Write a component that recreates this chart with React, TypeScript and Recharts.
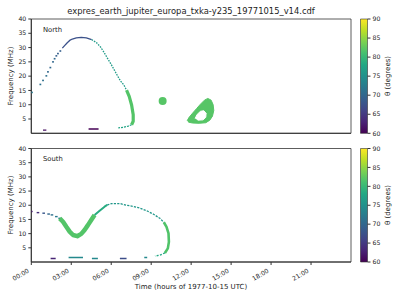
import { ScatterChart, Scatter, XAxis, YAxis, ReferenceArea, BarChart, Bar } from "recharts";

const hourTicks = [0, 3, 6, 9, 12, 15, 18, 21];
const freqTicks = [5, 10, 15, 20, 25, 30, 35, 40];
const thetaTicks = [60, 65, 70, 75, 80, 85, 90];

// points are [hour, frequency MHz, theta deg]
const northRise = [
    [0.05, 14.3, 72], [0.68, 17.1, 71], [0.88, 18.5, 71], [1.13, 20.1, 71], [1.25, 21.5, 70],
    [1.43, 23, 70], [1.63, 25, 70], [1.75, 26.1, 70], [1.88, 27.1, 69], [2.0, 27.9, 69], [2.18, 28.8, 69],
];
const northPeak = [
    [2.33, 29.8, 68], [2.5, 30.7, 67], [2.7, 31.7, 67], [2.88, 32.5, 67], [3.08, 33, 67],
    [3.38, 33.4, 67], [3.75, 33.6, 67], [4.13, 33.4, 68], [4.53, 32.8, 69],
];
const northFall = [
    [4.53, 32.8, 73], [4.9, 31.7, 74], [5.2, 30.2, 75], [5.45, 28.4, 75], [5.7, 26.4, 76], [5.96, 24.4, 76],
    [6.2, 22.4, 77], [6.45, 20.3, 77], [6.7, 18.3, 78], [6.95, 16.9, 79], [7.15, 15.1, 80],
];
const northBand = [
    [7.15, 15.1, 82], [7.35, 12.9, 82], [7.53, 9.9, 82], [7.65, 6.5, 82], [7.65, 4.2, 82], [7.53, 3.0, 81],
];
const northHook = [[7.53, 3.0, 79], [7.28, 2.5, 78], [6.9, 2.1, 77], [6.53, 1.9, 76]];
const northDashes = [
    [[0.88, 1.1, 61], [1.13, 1.1, 61]],
    [[4.3, 1.5, 60], [5.05, 1.5, 60]],
];
const northSpot = [[9.86, 11.3, 82]];
const northLoopOuter = [
    [11.7, 4.4, 82], [11.85, 5.6, 82], [12.1, 7.0, 82], [12.4, 8.6, 82], [12.7, 10.2, 82], [13.0, 11.6, 82],
    [13.25, 12.2, 82], [13.5, 11.6, 82], [13.65, 10.0, 82], [13.7, 8.0, 82], [13.6, 6.0, 82], [13.4, 4.6, 82],
    [13.1, 3.7, 82], [12.6, 3.5, 82], [12.1, 3.6, 82], [11.8, 3.9, 82],
];
const northLoopHole = [
    [12.3, 5.2, 0], [12.45, 6.6, 0], [12.7, 7.7, 0], [12.95, 7.9, 0], [13.12, 7.0, 0],
    [13.1, 5.6, 0], [12.9, 4.7, 0], [12.5, 4.6, 0],
];

const southStart = [
    [0.0, 17.8, 62], [0.5, 17.4, 64], [0.93, 17.2, 68], [1.3, 16.9, 70],
    [1.55, 16.6, 71], [1.88, 16.0, 72], [2.13, 15.4, 73],
];
const southDip = [
    [2.13, 15.4, 81], [2.38, 14.2, 82], [2.63, 12.4, 82], [2.88, 10.7, 82], [3.13, 9.5, 82], [3.45, 9.1, 82],
    [3.75, 9.9, 82], [4.0, 11.3, 82], [4.25, 13, 82], [4.5, 14.8, 82], [4.75, 16.6, 81],
];
const southRise = [[4.75, 16.6, 80], [5.13, 18.1, 79], [5.5, 19.5, 78], [5.7, 20.1, 77]];
const southHump = [
    [5.7, 20.1, 76], [6.03, 20.6, 75], [6.65, 20.6, 75], [7.15, 20.0, 75], [7.65, 19.6, 75],
    [8.15, 19.0, 75], [8.65, 18.1, 76], [9.15, 16.9, 76], [9.65, 15.4, 77], [9.95, 14.0, 78],
];
const southWall = [[9.95, 14, 81], [10.15, 12.4, 82], [10.3, 10.1, 82], [10.33, 7.1, 82], [10.25, 4.8, 82], [10.03, 3.2, 81]];
const southHook = [[10.03, 3.2, 79], [9.65, 2.4, 78], [9.28, 2.1, 77]];
const southDashes = [
    [[1.45, 1.25, 63], [1.83, 1.25, 63]],
    [[2.8, 1.6, 74], [3.88, 1.6, 74]],
    [[4.55, 1.25, 74], [5.0, 1.25, 74]],
    [[6.65, 1.25, 67], [7.15, 1.25, 67]],
    [[8.48, 1.6, 74], [8.7, 1.6, 74]],
];

const VIRIDIS = ["#440154", "#482475", "#414487", "#355f8d", "#2a788e", "#21918c", "#22a884", "#44bf70", "#7ad151", "#bddf26", "#fde725"];

function viridis(theta: number) {
    const u = Math.min(1, Math.max(0, (theta - 60) / 30)) * 10;
    const i = Math.min(9, Math.floor(u));
    const f = u - i;
    const a = VIRIDIS[i], b = VIRIDIS[i + 1];
    const ch = (s: string, k: number) => parseInt(s.slice(1 + k * 2, 3 + k * 2), 16);
    const c = [0, 1, 2].map((k) => Math.round(ch(a, k) + (ch(b, k) - ch(a, k)) * f));
    return `rgb(${c[0]},${c[1]},${c[2]})`;
}

const toPts = (arr: number[][]) => arr.map(([t, f, th]) => ({ t, f, th }));
const meanTheta = (arr: number[][]) => arr.reduce((s, p) => s + p[2], 0) / arr.length;
const noMark = () => <g />;
const TEXT = "#222";
const AXIS = "#333";

function trace(key: string, arr: number[][], width: number, dash?: string) {
    const c = viridis(meanTheta(arr));
    return (
        <Scatter
            key={key}
            data={toPts(arr)}
            fill={c}
            line={{ stroke: c, strokeWidth: width, strokeDasharray: dash, strokeLinejoin: "round" }}
            shape={noMark}
            isAnimationActive={false}
        />
    );
}

function dots(key: string, arr: number[][], w: number, h: number) {
    return (
        <Scatter
            key={key}
            data={toPts(arr)}
            shape={(p: any) => (
                <rect x={p.cx - w / 2} y={p.cy - h / 2} width={w} height={h} fill={viridis(p.payload.th)} />
            )}
            isAnimationActive={false}
        />
    );
}

function patch(key: string, arr: number[][], color: string) {
    return (
        <Scatter
            key={key}
            data={toPts(arr)}
            fill={color}
            line={{ stroke: color, strokeWidth: 1, fill: color }}
            shape={noMark}
            isAnimationActive={false}
        />
    );
}

const fmtHour = (h: number) => `${String(h).padStart(2, "0")}:00`;

function TimeTick({ x, y, payload }: any) {
    const ax = x - 1.8;
    const ay = y + 7;
    return (
        <text x={ax} y={ay} transform={`rotate(-30 ${ax} ${ay})`} textAnchor="end" fontSize={6.2} fill={TEXT}>
            {fmtHour(payload.value)}
        </text>
    );
}

function Panel({ top, height, plotTop, plotBottom, showTime, children }: any) {
    return (
        <div style={{ position: "absolute", left: 0, top }}>
            <ScatterChart width={400} height={height} margin={{ top: plotTop, right: 49, bottom: 0, left: 0 }}>
                <XAxis
                    type="number"
                    dataKey="t"
                    domain={[0, 24]}
                    ticks={hourTicks}
                    interval={0}
                    allowDataOverflow
                    height={height - plotBottom}
                    tickSize={3}
                    tickMargin={0}
                    stroke={AXIS}
                    tick={showTime ? <TimeTick /> : false}
                />
                <YAxis
                    type="number"
                    dataKey="f"
                    domain={[0, 40]}
                    ticks={freqTicks}
                    interval={0}
                    allowDataOverflow
                    width={31.3}
                    tickSize={3}
                    tickMargin={2}
                    stroke={AXIS}
                    tick={{ fontSize: 6.2, fill: TEXT }}
                />
                {children}
                <ReferenceArea x1={0} x2={24} y1={0} y2={40} fill="none" stroke={AXIS} strokeWidth={0.8} />
            </ScatterChart>
        </div>
    );
}

const cbData = [{ k: "theta", v: [60, 90] }];

function ColorBar({ top, height, plotTop, plotBottom, id }: any) {
    return (
        <div style={{ position: "absolute", left: 355, top }}>
            <BarChart
                width={45}
                height={height}
                data={cbData}
                margin={{ top: plotTop, right: 0, bottom: height - plotBottom, left: 5.5 }}
                barCategoryGap={0}
            >
                <defs>
                    <linearGradient id={id} x1="0" y1="1" x2="0" y2="0">
                        {VIRIDIS.map((c, i) => (
                            <stop key={i} offset={`${i * 10}%`} stopColor={c} />
                        ))}
                    </linearGradient>
                </defs>
                <XAxis dataKey="k" hide />
                <YAxis
                    orientation="right"
                    type="number"
                    domain={[60, 90]}
                    ticks={thetaTicks}
                    interval={0}
                    width={32.5}
                    tickSize={3}
                    tickMargin={2}
                    axisLine={false}
                    stroke={AXIS}
                    tick={{ fontSize: 6.2, fill: TEXT }}
                />
                <Bar dataKey="v" fill={`url(#${id})`} stroke={AXIS} strokeWidth={0.6} isAnimationActive={false} />
            </BarChart>
        </div>
    );
}

export default function App() {
    return (
        <div
            style={{
                position: "absolute",
                left: 0,
                top: 0,
                width: 400,
                height: 300,
                background: "#fff",
                fontFamily: "DejaVu Sans",
                overflow: "hidden",
            }}
        >
            <Panel top={0} height={140} plotTop={19} plotBottom={133.3} showTime={false}>
                {northDashes.map((d, i) => trace(`nd${i}`, d, 1.4))}
                {dots("nrise", northRise, 1.8, 1.6)}
                {trace("npeak", northPeak, 1.3)}
                {trace("nfall", northFall, 1.3, "1.6 1.1")}
                {trace("nband", northBand, 3.2)}
                {trace("nhook", northHook, 1.3, "2 1")}
                {northSpot.map((p, i) => (
                    <Scatter
                        key={`ns${i}`}
                        data={toPts([p])}
                        shape={(s: any) => <circle cx={s.cx} cy={s.cy} r={4} fill={viridis(s.payload.th)} />}
                        isAnimationActive={false}
                    />
                ))}
                {patch("nloop", northLoopOuter, viridis(meanTheta(northLoopOuter)))}
                {patch("nhole", northLoopHole, "#ffffff")}
            </Panel>
            <Panel top={140} height={160} plotTop={8.5} plotBottom={122} showTime>
                {southDashes.map((d, i) => trace(`sd${i}`, d, 1.4))}
                {dots("sstart", southStart, 2.6, 1.4)}
                {trace("sdip", southDip, 4.5)}
                {trace("srise", southRise, 2)}
                {trace("shump", southHump, 1.3, "2.2 1.2")}
                {trace("swall", southWall, 2.6)}
                {trace("shook", southHook, 1.3, "2 1.4")}
            </Panel>
            <ColorBar top={0} height={140} plotTop={19} plotBottom={133.3} id="viridisNorth" />
            <ColorBar top={140} height={160} plotTop={8.5} plotBottom={122} id="viridisSouth" />
            <svg width={400} height={300} style={{ position: "absolute", left: 0, top: 0, pointerEvents: "none" }}>
                <text x={191} y={13.5} textAnchor="middle" fontSize={8.4} fill={TEXT}>
                    expres_earth_jupiter_europa_txka-y235_19771015_v14.cdf
                </text>
                <text x={43} y={31.5} fontSize={6.8} fill={TEXT}>North</text>
                <text x={43} y={161} fontSize={6.8} fill={TEXT}>South</text>
                <text x={12.5} y={76} transform="rotate(-90 12.5 76)" textAnchor="middle" fontSize={7} fill={TEXT}>
                    Frequency (MHz)
                </text>
                <text x={12.5} y={205} transform="rotate(-90 12.5 205)" textAnchor="middle" fontSize={7} fill={TEXT}>
                    Frequency (MHz)
                </text>
                <text x={390} y={76} transform="rotate(-90 390 76)" textAnchor="middle" fontSize={7} fill={TEXT}>
                    θ (degrees)
                </text>
                <text x={390} y={205} transform="rotate(-90 390 205)" textAnchor="middle" fontSize={7} fill={TEXT}>
                    θ (degrees)
                </text>
                <text x={191} y={289} textAnchor="middle" fontSize={7} fill={TEXT}>
                    Time (hours of 1977-10-15 UTC)
                </text>
            </svg>
        </div>
    );
}
